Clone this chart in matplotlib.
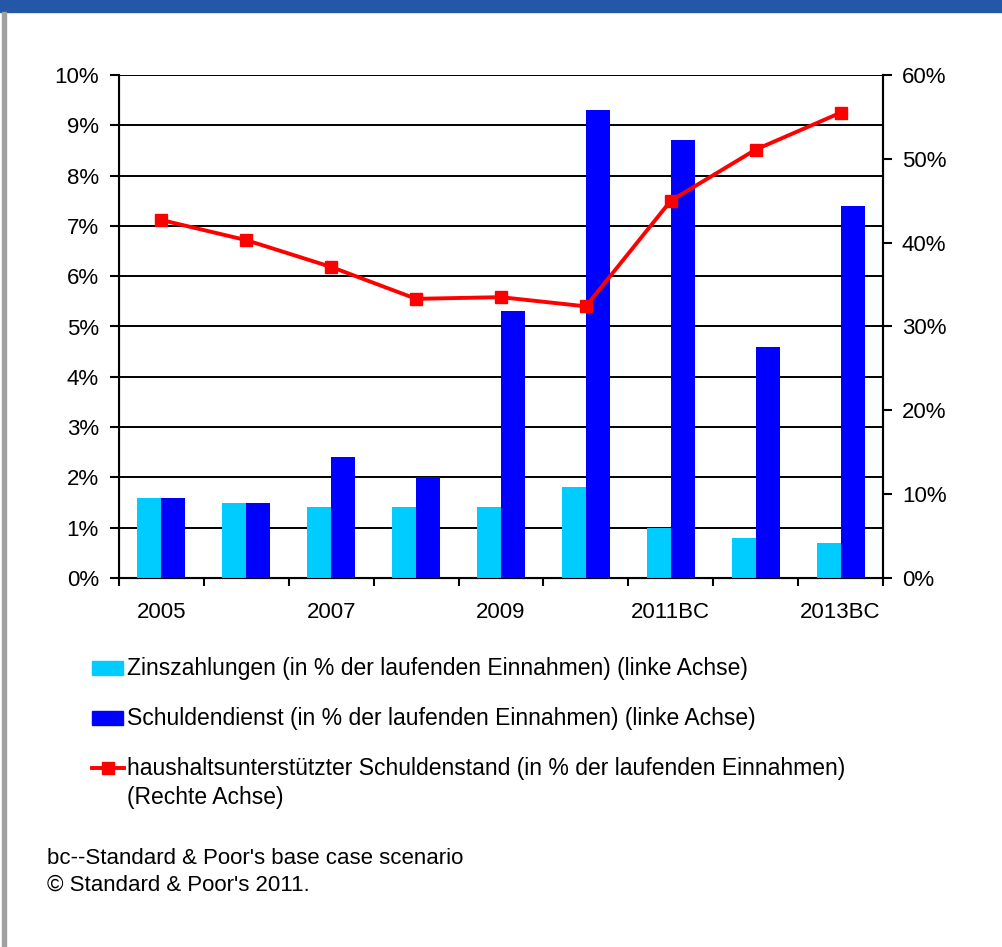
import numpy as np
import matplotlib.pyplot as plt
from matplotlib.patches import Rectangle
from matplotlib.lines import Line2D
from matplotlib.ticker import FuncFormatter, MultipleLocator

plt.rcParams['font.family'] = ['Liberation Sans', 'DejaVu Sans']

# Daten
years = ['2005', '2006', '2007', '2008', '2009', '2010', '2011BC', '2012BC', '2013BC']
zinszahlungen = [1.6, 1.5, 1.42, 1.42, 1.42, 1.8, 1.0, 0.8, 0.7]
schuldendienst = [1.6, 1.5, 2.4, 2.0, 5.3, 9.3, 8.7, 4.6, 7.4]
schuldenstand = [42.7, 40.3, 37.1, 33.3, 33.5, 32.4, 45.0, 51.1, 55.5]

labels = [
    "Zinszahlungen (in % der laufenden Einnahmen) (linke Achse)",
    "Schuldendienst (in % der laufenden Einnahmen) (linke Achse)",
    "haushaltsunterstützter Schuldenstand (in % der laufenden Einnahmen)\n(Rechte Achse)",
]
note = "bc--Standard & Poor's base case scenario\n© Standard & Poor's 2011."

c_light = '#00CCFF'
c_dark = '#0000FF'
c_red = '#FF0000'
fs = 16

W, H = 1002, 947
fig = plt.figure(figsize=(W / 100, H / 100), dpi=100)

def fy(py):
    # Pixelzeile -> Figurkoordinate
    return 1 - py / H

# Rahmen: blauer Balken oben, grauer Rand links
fig.patches.append(Rectangle((0, fy(12)), 1, 12 / H, transform=fig.transFigure,
                             color='#2457A8', zorder=0))
fig.patches.append(Rectangle((2 / W, 0), 4 / W, fy(12), transform=fig.transFigure,
                             color='#A0A0A0', zorder=0))

ax = fig.add_axes([119 / W, fy(578), (883 - 119) / W, (578 - 75) / H])
x = np.arange(len(years))
bw = 0.283
ax.bar(x - bw / 2, zinszahlungen, bw, color=c_light, zorder=3)
ax.bar(x + bw / 2, schuldendienst, bw, color=c_dark, zorder=3)
ax.set_xlim(-0.5, len(years) - 0.5)
ax.set_ylim(0, 10)
ax.yaxis.set_major_locator(MultipleLocator(1))
ax.yaxis.set_major_formatter(FuncFormatter(lambda v, p: f"{v:.0f}%"))
ax.grid(axis='y', color='black', lw=1.4, zorder=1)
ax.set_xticks(x)
ax.set_xticklabels([y if i % 2 == 0 else '' for i, y in enumerate(years)])
ax.set_xticks(np.arange(-0.5, len(years)), minor=True)
ax.tick_params(axis='x', which='major', length=0, pad=17, labelsize=fs)
ax.tick_params(axis='x', which='minor', length=6, width=1.5, direction='out')
ax.tick_params(axis='y', length=6.5, width=1.5, pad=8, labelsize=fs)
ax.spines['top'].set_visible(False)
for s in ['left', 'right', 'bottom']:
    ax.spines[s].set_linewidth(1.5)

ax2 = ax.twinx()
ax2.plot(x, schuldenstand, color=c_red, lw=2.8, marker='s', ms=8.5, zorder=5)
ax2.set_ylim(0, 60)
ax2.yaxis.set_major_locator(MultipleLocator(10))
ax2.yaxis.set_major_formatter(FuncFormatter(lambda v, p: f"{v:.0f}%"))
ax2.tick_params(axis='y', length=6.5, width=1.5, pad=7, labelsize=fs)
ax2.spines['top'].set_visible(False)
ax2.spines['right'].set_linewidth(1.5)

# Legende
fig.patches.append(Rectangle((92 / W, fy(675)), 31 / W, 14 / H,
                             transform=fig.transFigure, color=c_light))
fig.patches.append(Rectangle((92 / W, fy(725)), 31 / W, 14 / H,
                             transform=fig.transFigure, color=c_dark))
fig.lines.append(Line2D([92 / W, 124 / W], [fy(768)] * 2, transform=fig.transFigure,
                        color=c_red, lw=2.8))
fig.lines.append(Line2D([108 / W], [fy(768)], transform=fig.transFigure,
                        color=c_red, marker='s', ms=8.5, lw=0))
rows = [[668], [718], [768, 797]]
for rr, lab in zip(rows, labels):
    for yy, line in zip(rr, lab.split('\n')):
        fig.text(127 / W, fy(yy), line, fontsize=fs + 0.5, va='center', ha='left')

for yy, line in zip([858, 885], note.split('\n')):
    fig.text(47 / W, fy(yy), line, fontsize=fs, va='center', ha='left')

fig.savefig('out.png', dpi=100)
